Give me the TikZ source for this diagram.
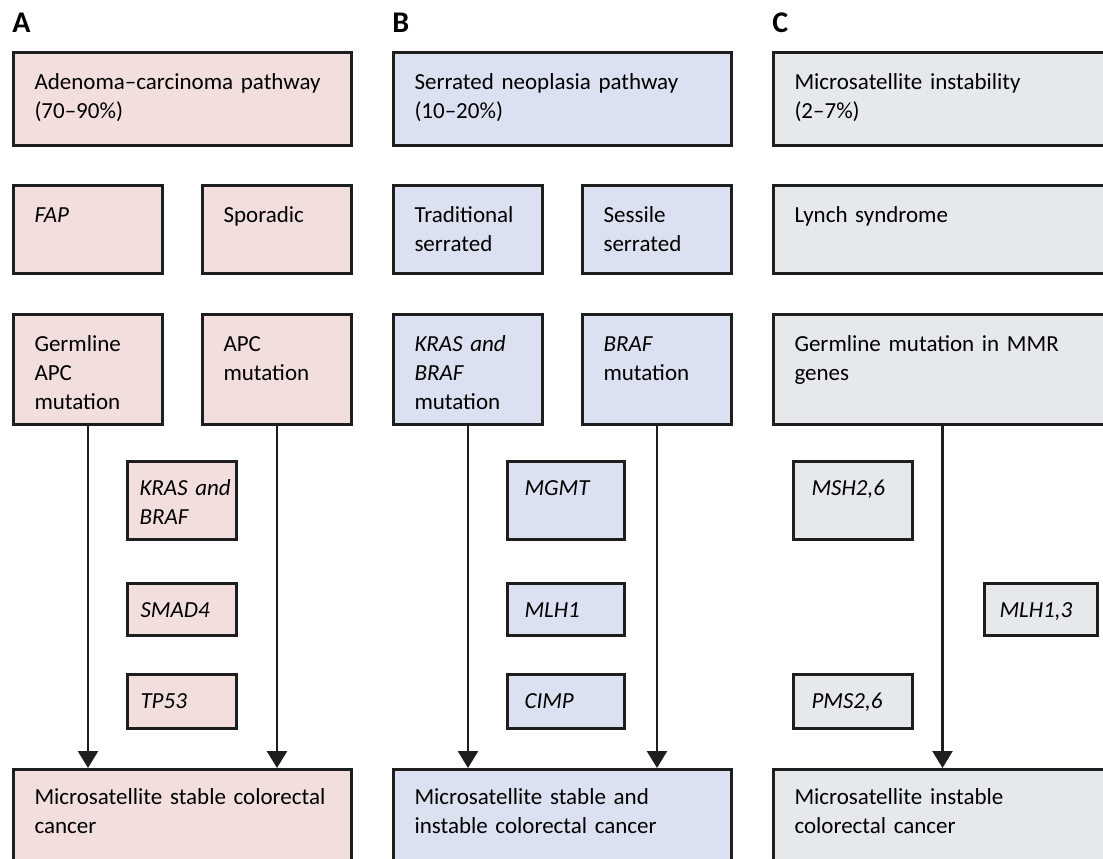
\documentclass[tikz,border=0pt]{standalone}
\usepackage{fontspec}
\setmainfont{Carlito}
\setsansfont{Carlito}
\usetikzlibrary{arrows.meta}
\definecolor{pinkA}{RGB}{243,222,222}
\definecolor{blueB}{RGB}{219,225,240}
\definecolor{greyC}{RGB}{229,233,235}
\definecolor{edge}{RGB}{30,30,30}
\tikzset{box/.style={draw=edge, line width=1.5pt, anchor=north west, align=left, inner xsep=10.5pt, inner ysep=0pt, text height=18.5pt, font=\sffamily\fontsize{11.5}{14.5}\selectfont},
  wide/.style={box, text width=148pt},
  half/.style={box, text width=53.5pt},
  gene/.style={box, text width=41.5pt, inner xsep=6.5pt, text height=17pt, font=\sffamily\itshape\fontsize{11.5}{14.5}\selectfont},
  pin/.style={draw=edge, line width=1.2pt, -{Triangle[length=8.5pt, width=10pt]}},
  tag/.style={anchor=base west, inner sep=0pt, font=\sffamily\bfseries\fontsize{15}{15}\selectfont}}

\begin{document}
\begin{tikzpicture}[x=0.5pt, y=-0.5pt]
  \useasboundingbox (0,0) rectangle (1103,858);
  % A: adenoma-carcinoma
  \begin{scope}[box/.append style={fill=pinkA}]
    \node[tag] (tagA) at (12,32) {A};
    \node[wide, text depth=28pt] (adeno) at (12,51) {Adenoma--carcinoma pathway\\(70--90\%)};
    \node[half, text depth=25.5pt] (fap) at (12,184) {\textit{FAP}};
    \node[half, text depth=25.5pt] (spor) at (201,184) {Sporadic};
    \node[half, text depth=36.5pt] (germA) at (12,313) {Germline\\APC\\mutation};
    \node[half, text depth=36.5pt] (apc) at (201,313) {APC\\mutation};
    \node[gene, text depth=22pt, inner xsep=6pt, text width=42.5pt] (krasA) at (126,460) {KRAS~and\\BRAF};
    \node[gene, text depth=9pt] (smad) at (126,582) {SMAD4};
    \node[gene, text depth=10pt] (tp53) at (126,673) {TP53};
    \node[wide, text height=17.5pt, text depth=42.5pt] (mssA) at (12,768) {Microsatellite stable colorectal\\cancer};
    \draw[pin] (germA.south) -- (germA.south |- mssA.north);
    \draw[pin] (apc.south) -- (apc.south |- mssA.north);
  \end{scope}
  % B: serrated neoplasia
  \begin{scope}[box/.append style={fill=blueB}]
    \node[tag] (tagB) at (392,32) {B};
    \node[wide, text depth=28pt] (serr) at (392,51) {Serrated neoplasia pathway\\(10--20\%)};
    \node[half, text depth=25.5pt] (trad) at (392,184) {Traditional\\serrated};
    \node[half, text depth=25.5pt] (sess) at (581,184) {Sessile\\serrated};
    \node[half, text depth=36.5pt] (krasB) at (392,313) {\textit{KRAS~and}\\\textit{BRAF}\\mutation};
    \node[half, text depth=36.5pt] (braf) at (581,313) {\textit{BRAF}\\mutation};
    \node[gene, text depth=22pt, inner xsep=8.5pt] (mgmt) at (506,460) {MGMT};
    \node[gene, text depth=9pt, inner xsep=8.5pt] (mlh) at (506,582) {MLH1};
    \node[gene, text depth=10pt, inner xsep=8.5pt] (cimp) at (506,673) {CIMP};
    \node[wide, text height=17.5pt, text depth=42.5pt] (mssB) at (392,768) {Microsatellite stable and\\instable colorectal cancer};
    \draw[pin] (krasB.south) -- (krasB.south |- mssB.north);
    \draw[pin] (braf.south) -- (braf.south |- mssB.north);
  \end{scope}
  % C: microsatellite instability
  \begin{scope}[box/.append style={fill=greyC}]
    \node[tag] (tagC) at (772,32) {C};
    \node[wide, text depth=28pt] (msi) at (772,51) {Microsatellite instability\\(2--7\%)};
    \node[wide, text depth=25.5pt] (lynch) at (772,184) {Lynch syndrome};
    \node[wide, text depth=36.5pt] (germC) at (772,313) {Germline mutation in MMR\\genes};
    \node[gene, text depth=22pt, inner xsep=9pt] (msh) at (792,460) {MSH2,6};
    \node[gene, text depth=9pt, inner xsep=7.5pt] (mlh13) at (983,582) {MLH1,3};
    \node[gene, text depth=10pt, inner xsep=9pt] (pms) at (792,673) {PMS2,6};
    \node[wide, text height=17.5pt, text depth=42.5pt] (msiC) at (772,768) {Microsatellite instable\\colorectal cancer};
    \draw[pin] (germC.south) -- (germC.south |- msiC.north);
  \end{scope}
\end{tikzpicture}
\end{document}
